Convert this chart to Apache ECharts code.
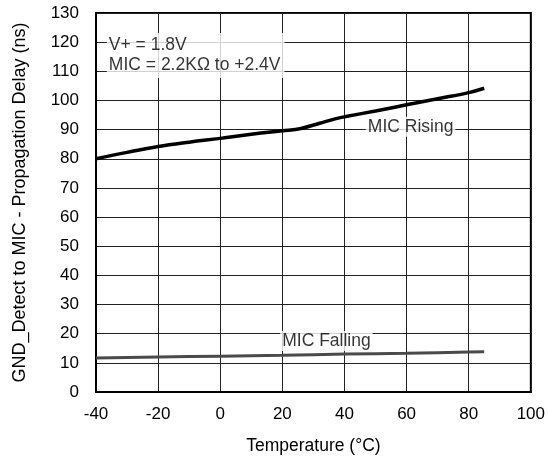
<!DOCTYPE html>
<html>
<head>
<meta charset="utf-8">
<script src="https://cdn.jsdelivr.net/npm/echarts@6/dist/echarts.min.js"></script>
<style>html,body{margin:0;padding:0;background:#fff;}#c{width:548px;height:461px;}</style>
</head>
<body>
<div id="c"></div>
<script>
// Data
var risingTemps  = [-40, -30, -20, -10, 0, 10, 20, 26, 32, 37, 40, 50, 60, 70, 80, 85];
var risingDelay  = [80, 82.2, 84.2, 85.7, 87, 88.4, 89.6, 90.4, 92.2, 93.7, 94.4, 96.4, 98.5, 100.6, 102.7, 104.2];
var fallingTemps = [-40, -20, 0, 20, 40, 60, 80, 85];
var fallingDelay = [11.7, 12.0, 12.3, 12.6, 13.0, 13.3, 13.7, 13.8];
var xTicks = [-40, -20, 0, 20, 40, 60, 80, 100];
var yTicks = [0, 10, 20, 30, 40, 50, 60, 70, 80, 90, 100, 110, 120, 130];
var annotations = [
  {temp: -36.5, delay: 115.4, text: 'V+ = 1.8V\nMIC = 2.2KΩ to +2.4V', left: true},
  {temp: 61.3, delay: 91.0, text: 'MIC Rising', left: false},
  {temp: 34.2, delay: 17.5, text: 'MIC Falling', left: false}
];

function zip(a, b) { return a.map(function (v, i) { return [v, b[i]]; }); }

var FONT = '"Liberation Sans", Arial, Helvetica, sans-serif';
var chart = echarts.init(document.getElementById('c'), null, {renderer: 'canvas'});
chart.setOption({
  animation: false,
  backgroundColor: '#fff',
  grid: {left: 96, right: 14, top: 13, bottom: 69, show: true, borderColor: '#000', borderWidth: 2, backgroundColor: 'transparent'},
  xAxis: {
    type: 'value', min: xTicks[0], max: xTicks[xTicks.length - 1], interval: 20,
    name: 'Temperature (°C)', nameLocation: 'middle', nameGap: 45,
    nameTextStyle: {fontFamily: FONT, fontSize: 17.5, color: '#000'},
    axisLine: {show: true, onZero: false, lineStyle: {color: '#000', width: 2}},
    axisTick: {show: false},
    axisLabel: {fontFamily: FONT, fontSize: 17, color: '#000', margin: 14},
    splitLine: {show: true, lineStyle: {color: '#222', width: 1}}
  },
  yAxis: {
    type: 'value', min: yTicks[0], max: yTicks[yTicks.length - 1], interval: 10,
    name: 'GND_Detect to MIC - Propagation Delay (ns)', nameLocation: 'middle', nameGap: 67,
    nameTextStyle: {fontFamily: FONT, fontSize: 18, color: '#000'},
    axisLine: {show: true, onZero: false, lineStyle: {color: '#000', width: 2}},
    axisTick: {show: false},
    axisLabel: {fontFamily: FONT, fontSize: 17, color: '#000', margin: 17},
    splitLine: {show: true, lineStyle: {color: '#222', width: 1}}
  },
  series: [
    {
      name: 'MIC Rising', type: 'line', smooth: 0.4, showSymbol: false,
      data: zip(risingTemps, risingDelay),
      lineStyle: {color: '#000', width: 3.5}, z: 3
    },
    {
      name: 'MIC Falling', type: 'line', smooth: true, showSymbol: false,
      data: zip(fallingTemps, fallingDelay),
      lineStyle: {color: '#4a4a4a', width: 3}, z: 3
    },
    {
      name: 'labels', type: 'scatter', symbolSize: 0, z: 5,
      data: annotations.map(function (a) {
        return {
          value: [a.temp, a.delay],
          label: a.left ? {
            show: true, position: 'right', distance: 0, align: 'left',
            formatter: a.text, lineHeight: 20, padding: [5, 4, 0, 2]
          } : {
            show: true, position: 'inside', formatter: a.text, padding: [1, 2, 1, 2]
          }
        };
      }),
      label: {fontFamily: FONT, fontSize: 17.5, color: '#000', backgroundColor: '#fff'},
      silent: true
    }
  ]
});
</script>
</body>
</html>
